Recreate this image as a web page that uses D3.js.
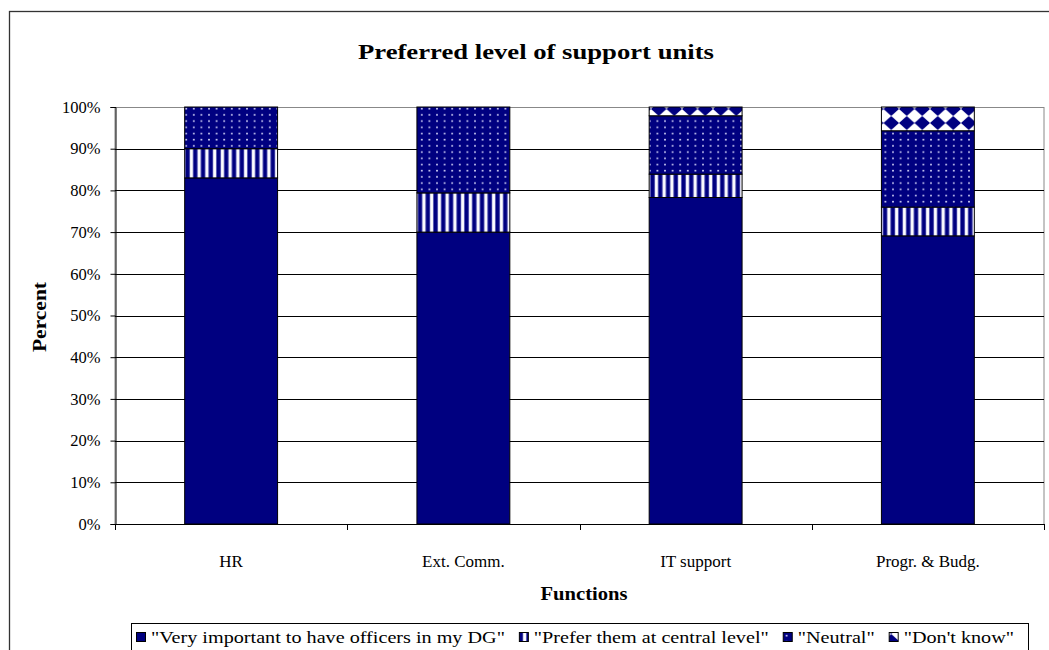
<!DOCTYPE html>
<html>
<head>
<meta charset="utf-8">
<script src="https://cdn.jsdelivr.net/npm/d3@7"></script>
<style>
  html, body { margin: 0; padding: 0; background: #fff; }
  svg { display: block; }
  svg text { font-family: "Liberation Serif", "Times New Roman", serif; fill: #000; }
</style>
</head>
<body>
<svg id="chart" width="1049" height="650"></svg>
<script>
const categories = ["HR", "Ext. Comm.", "IT support", "Progr. & Budg."];
const seriesNames = [
  "\"Very important to have officers in my DG\"",
  "\"Prefer them at central level\"",
  "\"Neutral\"",
  "\"Don't know\""
];
const veryImportant = [83, 70, 78.3, 69.1];
const preferCentral = [7, 9.4, 5.6, 6.9];
const neutral = [10, 20.6, 14, 18.3];
const dontKnow = [0, 0, 2.1, 5.7];
const yTicks = [0, 10, 20, 30, 40, 50, 60, 70, 80, 90, 100];

(function () {
const svg = d3.select("#chart");
const navy = "#000080";
const serif = "Liberation Serif";

// Patterns
const defs = svg.append("defs");
const pStripe = defs.append("pattern").attr("id", "pStripe").attr("patternUnits", "userSpaceOnUse")
  .attr("width", 7.75).attr("height", 10);
pStripe.append("rect").attr("width", 7.75).attr("height", 10).attr("fill", navy);
pStripe.append("rect").attr("x", 3.6).attr("width", 3.6).attr("height", 10).attr("fill", "#c8c8f0");
pStripe.append("rect").attr("x", 4.2).attr("width", 2.4).attr("height", 10).attr("fill", "#ffffff");

const pDots = defs.append("pattern").attr("id", "pDots").attr("patternUnits", "userSpaceOnUse")
  .attr("width", 7.6).attr("height", 6.2);
pDots.append("rect").attr("width", 7.6).attr("height", 6.2).attr("fill", navy);
pDots.append("rect").attr("x", 3).attr("y", 2.5).attr("width", 1.6).attr("height", 1.6).attr("fill", "#e0e0ff");

const pDiam = defs.append("pattern").attr("id", "pDiam").attr("patternUnits", "userSpaceOnUse")
  .attr("width", 15.5).attr("height", 14).attr("y", 4);
pDiam.append("rect").attr("width", 15.5).attr("height", 14).attr("fill", "#fff");
pDiam.append("path").attr("d", "M0,7 L7.75,0 L15.5,7 L7.75,14 Z").attr("fill", navy);

const fills = [navy, "url(#pStripe)", "url(#pDots)", "url(#pDiam)"];

// Outer frame
svg.append("rect").attr("x", 9.5).attr("y", 11.5).attr("width", 1100).attr("height", 700)
  .attr("fill", "#fff").attr("stroke", "#333").attr("stroke-width", 1.3);

const pLeft = 115, pRight = 1044, pTop = 107, pBottom = 524;

const x = d3.scaleBand().domain(categories).range([pLeft, pRight]).paddingInner(0.6).paddingOuter(0.3);
const y = d3.scaleLinear().domain([0, 100]).range([pBottom, pTop]);

// Plot area border
svg.append("rect").attr("x", pLeft).attr("y", pTop + 0.5).attr("width", pRight - pLeft).attr("height", pBottom - pTop)
  .attr("fill", "none").attr("stroke", "#888").attr("stroke-width", 1);

// Gridlines
svg.append("g").selectAll("line").data(yTicks.filter(d => d > 0)).join("line")
  .attr("x1", pLeft).attr("x2", pRight)
  .attr("y1", d => Math.round(y(d)) + 0.5).attr("y2", d => Math.round(y(d)) + 0.5)
  .attr("stroke", d => d === 100 ? "#888" : "#000").attr("stroke-width", 1);

// Y axis
const yAxis = d3.axisLeft(y).tickValues(yTicks).tickFormat(d => d + "%").tickSize(5).tickPadding(10);
const gy = svg.append("g").attr("transform", `translate(${pLeft + 0.5},0)`).call(yAxis)
  .attr("font-family", serif);
gy.select(".domain").attr("stroke", "#000");
gy.selectAll(".tick line").attr("stroke", "#000");
gy.selectAll(".tick text").attr("font-family", serif).attr("font-size", 16.5).attr("fill", "#000");

// Stacked data
const stackData = categories.map((c, i) => ({
  cat: c, s0: veryImportant[i], s1: preferCentral[i], s2: neutral[i], s3: dontKnow[i]
}));
const stack = d3.stack().keys(["s0", "s1", "s2", "s3"]);
const series = stack(stackData);

const gBars = svg.append("g");
series.forEach((s, si) => {
  gBars.append("g").selectAll("rect").data(s.filter(d => d[1] - d[0] > 0)).join("rect")
    .attr("x", d => x(d.data.cat))
    .attr("width", x.bandwidth())
    .attr("y", d => y(d[1]))
    .attr("height", d => y(d[0]) - y(d[1]))
    .attr("fill", fills[si])
    .attr("stroke", "#000").attr("stroke-width", 1);
});

// X axis
svg.append("line").attr("x1", pLeft).attr("x2", pRight).attr("y1", pBottom + 0.5).attr("y2", pBottom + 0.5)
  .attr("stroke", "#000");
const boundaries = d3.range(categories.length + 1).map(i => pLeft + i * x.step());
svg.append("g").selectAll("line").data(boundaries).join("line")
  .attr("x1", d => Math.round(d) + 0.5).attr("x2", d => Math.round(d) + 0.5)
  .attr("y1", pBottom).attr("y2", pBottom + 6).attr("stroke", "#000");
svg.append("g").selectAll("text").data(categories).join("text")
  .attr("x", d => x(d) + x.bandwidth() / 2).attr("y", 567)
  .attr("text-anchor", "middle").attr("font-family", serif).attr("font-size", 17).text(d => d);

// Titles
svg.append("text").attr("x", 536).attr("y", 59).attr("text-anchor", "middle")
  .attr("font-family", serif).attr("font-weight", "bold").attr("font-size", 22)
  .attr("textLength", 356).attr("lengthAdjust", "spacingAndGlyphs")
  .text("Preferred level of support units");
svg.append("text").attr("x", 584).attr("y", 600).attr("text-anchor", "middle")
  .attr("font-family", serif).attr("font-weight", "bold").attr("font-size", 19.5)
  .attr("textLength", 87).attr("lengthAdjust", "spacingAndGlyphs")
  .text("Functions");
svg.append("text").attr("transform", "translate(46,317) rotate(-90)").attr("text-anchor", "middle")
  .attr("font-family", serif).attr("font-weight", "bold").attr("font-size", 19.5)
  .attr("textLength", 70).attr("lengthAdjust", "spacingAndGlyphs")
  .text("Percent");

// Legend: laid out from measured text widths, uniformly widened to fill the box
const legend = svg.append("g");
legend.append("rect").attr("x", 131.5).attr("y", 623.5).attr("width", 897).attr("height", 60)
  .attr("fill", "#fff").attr("stroke", "#000");
const startX = 136, endX = 1014, markW = 9, markGap = 6, itemGap = 14;
const texts = seriesNames.map(n => legend.append("text").attr("y", 643)
  .attr("font-family", serif).attr("font-size", 16).text(n));
const natural = texts.map(t => t.node().getComputedTextLength());
const avail = (endX - startX) - seriesNames.length * (markW + markGap) - (seriesNames.length - 1) * itemGap;
const k = avail / d3.sum(natural);
let cx = startX;
seriesNames.forEach((n, i) => {
  legend.append("rect").attr("x", cx + 0.5).attr("y", 632.5).attr("width", markW).attr("height", markW)
    .attr("fill", fills[i]).attr("stroke", "#000");
  const w = natural[i] * k;
  texts[i].attr("x", cx + markW + markGap).attr("textLength", w).attr("lengthAdjust", "spacingAndGlyphs");
  cx += markW + markGap + w + itemGap;
});
})();
</script>
</body>
</html>
